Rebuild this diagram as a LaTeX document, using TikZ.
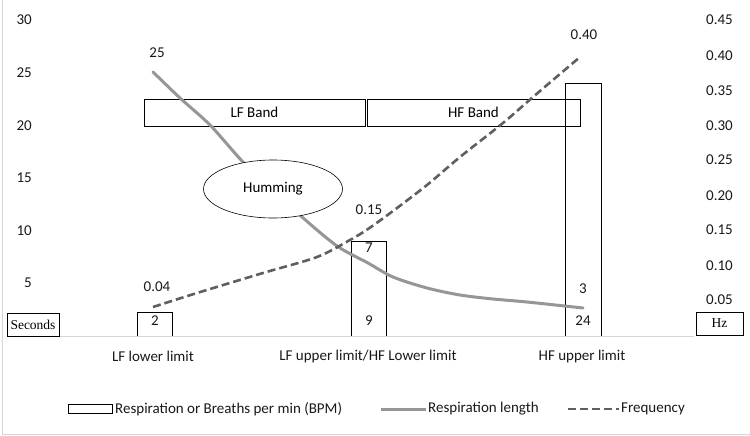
\documentclass[tikz,border=0pt]{standalone}
\usepackage{fontspec}
\setmainfont{Carlito}
\newfontfamily\serifft{Liberation Serif}
\usetikzlibrary{shapes.geometric}
\definecolor{rlgray}{RGB}{150,150,150}
\definecolor{frgray}{RGB}{95,95,95}
\definecolor{framegray}{RGB}{214,214,214}
\begin{document}
\begin{tikzpicture}[x=1pt,y=-1pt,
  font=\fontsize{15}{17}\selectfont,
  barbox/.style={draw=black, line width=0.9pt},
  bandbox/.style={draw=black, line width=0.9pt, minimum height=27pt, inner sep=0pt},
  unitbox/.style={draw=black, line width=0.7pt, fill=white, minimum height=23pt, inner sep=0pt, font=\serifft\fontsize{13.5}{15}\selectfont},
  resline/.style={draw=rlgray, line width=3pt},
  freqline/.style={draw=frgray, line width=2.6pt, dash pattern=on 8pt off 4pt},
  ticklbl/.style={inner sep=0pt, text=black!90},
  vallbl/.style={inner sep=0pt, text=black!90},
]
\useasboundingbox (0,0) rectangle (750,436);
\fill[white] (0,0) rectangle (750,436);
% outer frame
\draw[framegray, line width=1pt] (2.5,0) -- (2.5,434.5) -- (750,434.5);
% axis line
\draw[framegray, line width=1pt] (59,336.5) -- (694,336.5);

% left axis labels (seconds)
\foreach \v/\y in {30/20, 25/73, 20/126, 15/178, 10/231, 5/283}
  \node[ticklbl, anchor=east] at (32,\y) {\v};
% right axis labels (Hz)
\foreach \v/\y in {0.45/20, 0.40/56, 0.35/91, 0.30/126, 0.25/160, 0.20/196, 0.15/230, 0.10/266, 0.05/300}
  \node[ticklbl, anchor=west] at (706,\y) {\v};

% bars (BPM)
\draw[barbox] (137,336) -- (137,312) -- (172,312) -- (172,336);
\draw[barbox] (351,336) -- (351,241) -- (386,241) -- (386,336);
\draw[barbox] (565,336) -- (565,83) -- (601,83) -- (601,336);

% band boxes
\node[bandbox, minimum width=221pt] (lfband) at (254.5,112.5) {LF Band};
\node[bandbox, minimum width=213pt] (hfband) at (473.5,112.5) {HF Band};

% data points
\coordinate (r1) at (153,72);
\coordinate (r2) at (368,263);
\coordinate (r3) at (583,308);
\coordinate (f1) at (153,307);
\coordinate (f2) at (368,229);
\coordinate (f3) at (580,57);

% respiration length curve
\draw[resline, line cap=round] plot[smooth, tension=0.5] coordinates {(r1) (180,98) (210,125) (243,162) (273,190) (302,217) (337,246) (r2) (393,277) (427,288) (460,295) (493,299) (527,302) (r3)};
% frequency curve
\draw[freqline] plot[smooth, tension=0.5] coordinates {(f1) (197,293) (263,273) (317,257) (350,240) (f2) (393,211) (427,185) (460,157) (503,123) (533,97) (f3)};

% humming ellipse
\node[ellipse, draw=black, line width=0.6pt, fill=white, minimum width=139pt, minimum height=58pt] (hum) at (273,189) {Humming};

% value labels
\node[vallbl] (l25) at (157,53) {25};
\node[vallbl] (l004) at (157,287) {0.04};
\node[vallbl] (l015) at (369,210) {0.15};
\node[vallbl] (l040) at (584,35) {0.40};
\node[vallbl] (l7) at (369,248) {7};
\node[vallbl] (l3) at (583,289) {3};
\node[vallbl] (l2) at (155,321) {2};
\node[vallbl] (l9) at (369,321) {9};
\node[vallbl] (l24) at (583,321) {24};

% unit boxes
\node[unitbox, minimum width=52pt] (sec) at (33,324.5) {Seconds};
\node[unitbox, minimum width=47pt] (hz) at (719.5,323.5) {Hz};

% category labels
\node[vallbl] (c1) at (153,356) {LF lower limit};
\node[vallbl] (c2) at (368,356) {LF upper limit/HF Lower limit};
\node[vallbl] (c3) at (582,356) {HF upper limit};

% legend
\draw[black, line width=0.9pt] (68,404.5) rectangle (112,413.5);
\node[vallbl, anchor=west] (lg1) at (115,409) {Respiration or Breaths per min (BPM)};
\draw[resline] (381,409) -- (426,409);
\node[vallbl, anchor=west] (lg2) at (428,409) {Respiration length};
\draw[freqline] (568,409) -- (619,409);
\node[vallbl, anchor=west] (lg3) at (621,409) {Frequency};
\end{tikzpicture}
\end{document}
